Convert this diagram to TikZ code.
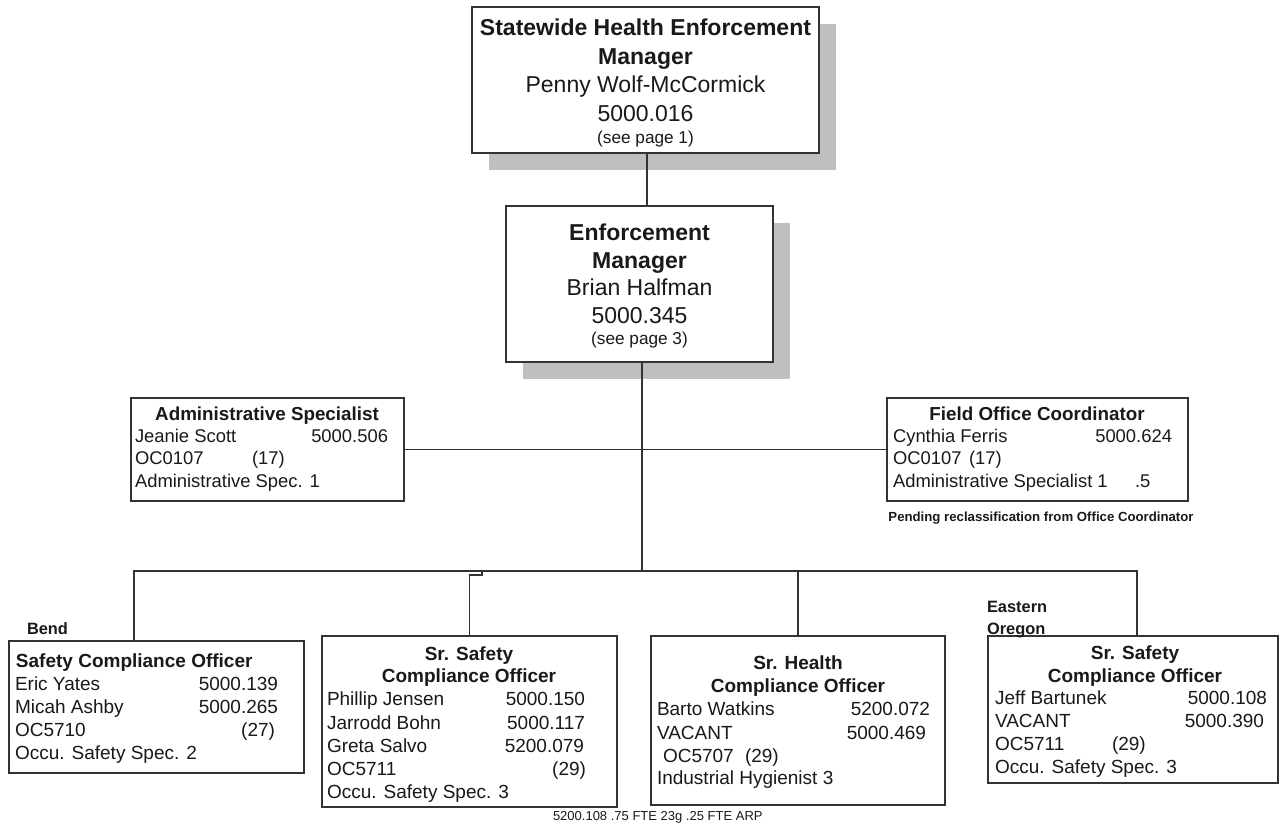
\documentclass[tikz,border=0pt]{standalone}
\usepackage{fontspec}
\setmainfont{Liberation Sans}
\usetikzlibrary{fit,shadows}

\tikzset{
  line/.style={draw=black!80, line width=0.75pt},
  box/.style={line, fill=white, inner sep=0pt},
  shbox/.style={box, drop shadow={shadow xshift=8.5pt, shadow yshift=-8.5pt, fill=black!25, opacity=1}},
  lbl/.style={inner sep=0pt, outer sep=0pt, text=black!90},
  bigb/.style={lbl, anchor=base, font=\bfseries\fontsize{11.5}{13}\selectfont},
  big/.style={lbl, anchor=base, font=\fontsize{11.5}{13}\selectfont},
  seep/.style={lbl, anchor=base, font=\fontsize{8.6}{10}\selectfont},
  midb/.style={lbl, anchor=base, font=\bfseries\fontsize{9.4}{11}\selectfont},
  midl/.style={lbl, anchor=base west, font=\fontsize{9.2}{11}\selectfont},
  midr/.style={lbl, anchor=base east, font=\fontsize{9.2}{11}\selectfont},
  lowb/.style={lbl, anchor=base, font=\bfseries\fontsize{9.5}{11}\selectfont},
  lowl/.style={lbl, anchor=base west, font=\fontsize{9.5}{11}\selectfont},
  lowr/.style={lbl, anchor=base east, font=\fontsize{9.5}{11}\selectfont},
  place/.style={lbl, anchor=base west, font=\bfseries\fontsize{8.2}{10}\selectfont},
  note/.style={lbl, anchor=base, font=\bfseries\fontsize{6.6}{8}\selectfont},
  fte/.style={lbl, anchor=base west, font=\fontsize{6.5}{8}\selectfont},
}

\begin{document}
\begin{tikzpicture}[x=0.5pt, y=-0.5pt]
\useasboundingbox (0,0) rectangle (1283,824);

% ---------- boxes ----------
\node[shbox, fit={(472,7) (819,153)}] (swm) {};
\node[shbox, fit={(506,206) (773,362)}] (mgr) {};
\node[box, fit={(131,398) (404,501)}] (adm) {};
\node[box, fit={(887,398) (1188,501)}] (fld) {};
\node[box, fit={(9,641) (304,773)}] (bend) {};
\node[box, fit={(322,636) (617,807)}] (ssco) {};
\node[box, fit={(651,636) (945,805)}] (shco) {};
\node[box, fit={(988,636) (1278,783)}] (eore) {};

% ---------- connectors ----------
\coordinate (xtop) at (647,0);
\coordinate (jM) at (642,571);
\coordinate (jL) at (134,571);
\coordinate (jS) at (482,571);
\coordinate (jH) at (798,571);
\coordinate (jR) at (1137,571);

\draw[line] (xtop |- swm.south) -- (xtop |- mgr.north);
\draw[line] (jM |- mgr.south) -- (jM);
\draw[line] (adm.east) -- (fld.west);
\draw[line] (bend.north -| jL) -- (jL) -- (jR) -- (eore.north -| jR);
\draw[line] (jS) -- ++(0,4) -| (ssco.north);
\draw[line] (jH) -- (shco.north -| jH);

% ---------- Statewide Health Enforcement Manager ----------
\node[bigb] (swm1) at (645.5,36) {Statewide Health Enforcement};
\node[bigb] (swm2) at (645.5,65) {Manager};
\node[big]  (swm3) at (645.5,93) {Penny Wolf-McCormick};
\node[big]  (swm4) at (645.5,121) {5000.016};
\node[seep] (swm5) at (645.5,143) {(see page 1)};

% ---------- Enforcement Manager ----------
\node[bigb] (mgr1) at (639.5,240) {Enforcement};
\node[bigb] (mgr2) at (639.5,268) {Manager};
\node[big]  (mgr3) at (639.5,295) {Brian Halfman};
\node[big]  (mgr4) at (639.5,323) {5000.345};
\node[seep] (mgr5) at (639.5,344) {(see page 3)};

% ---------- Administrative Specialist ----------
\node[midb] (adm1) at (267,420) {Administrative Specialist};
\node[midl] (adm2) at (135,442.5) {Jeanie Scott};
\node[midr] (adm3) at (388,442.5) {5000.506};
\node[midl] (adm4) at (135,464.5) {OC0107};
\node[midl] (adm5) at (252,464.5) {(17)};
\node[midl] (adm6) at (135,487.5) {Administrative Spec. 1};

% ---------- Field Office Coordinator ----------
\node[midb] (fld1) at (1037,420) {Field Office Coordinator};
\node[midl] (fld2) at (893,442.5) {Cynthia Ferris};
\node[midr] (fld3) at (1172,442.5) {5000.624};
\node[midl] (fld4) at (893,464.5) {OC0107};
\node[midl] (fld5) at (969,464.5) {(17)};
\node[midl] (fld6) at (893,487.5) {Administrative Specialist 1};
\node[midl] (fld7) at (1135,487.5) {.5};
\node[note] (fld8) at (1041,521.5) {Pending reclassification from Office Coordinator};

% ---------- Bend: Safety Compliance Officer ----------
\node[place] (bendl) at (27,634) {Bend};
\node[lbl, anchor=base west, font=\bfseries\fontsize{9.5}{11}\selectfont] (bend1) at (16,667) {Safety Compliance Officer};
\node[lowl] (bend2) at (15,690) {Eric Yates};
\node[lowr] (bend3) at (278,690) {5000.139};
\node[lowl] (bend4) at (15,713) {Micah Ashby};
\node[lowr] (bend5) at (278,713) {5000.265};
\node[lowl] (bend6) at (15,736) {OC5710};
\node[lowr] (bend7) at (275,736) {(27)};
\node[lowl] (bend8) at (15,759) {Occu. Safety Spec. 2};

% ---------- Sr. Safety Compliance Officer ----------
\node[lowb] (ssco1) at (469,660) {Sr. Safety};
\node[lowb] (ssco2) at (469,682) {Compliance Officer};
\node[lowl] (ssco3) at (327,705) {Phillip Jensen};
\node[lowr] (ssco4) at (585,705) {5000.150};
\node[lowl] (ssco5) at (327,729) {Jarrodd Bohn};
\node[lowr] (ssco6) at (585,729) {5000.117};
\node[lowl] (ssco7) at (327,752) {Greta Salvo};
\node[lowr] (ssco8) at (584,752) {5200.079};
\node[lowl] (ssco9) at (327,775) {OC5711};
\node[lowr] (ssco10) at (586,775) {(29)};
\node[lowl] (ssco11) at (327,798) {Occu. Safety Spec. 3};

% ---------- Sr. Health Compliance Officer ----------
\node[lowb] (shco1) at (798,669) {Sr. Health};
\node[lowb] (shco2) at (798,692) {Compliance Officer};
\node[lowl] (shco3) at (657,715) {Barto Watkins};
\node[lowr] (shco4) at (930,715) {5200.072};
\node[lowl] (shco5) at (657,739) {VACANT};
\node[lowr] (shco6) at (926,739) {5000.469};
\node[lowl] (shco7) at (663,762) {OC5707};
\node[lowl] (shco8) at (745,762) {(29)};
\node[lowl] (shco9) at (657,784) {Industrial Hygienist 3};
\node[fte]  (shco10) at (553,820) {5200.108 .75 FTE 23g .25 FTE ARP};

% ---------- Eastern Oregon: Sr. Safety Compliance Officer ----------
\node[place] (eorel1) at (987,612) {Eastern};
\node[place] (eorel2) at (987,634) {Oregon};
\node[lowb] (eore1) at (1135,659) {Sr. Safety};
\node[lowb] (eore2) at (1135,682) {Compliance Officer};
\node[lowl] (eore3) at (995,704) {Jeff Bartunek};
\node[lowr] (eore4) at (1267,704) {5000.108};
\node[lowl] (eore5) at (995,727) {VACANT};
\node[lowr] (eore6) at (1264,727) {5000.390};
\node[lowl] (eore7) at (995,750) {OC5711};
\node[lowl] (eore8) at (1112,750) {(29)};
\node[lowl] (eore9) at (995,773) {Occu. Safety Spec. 3};
\end{tikzpicture}
\end{document}
